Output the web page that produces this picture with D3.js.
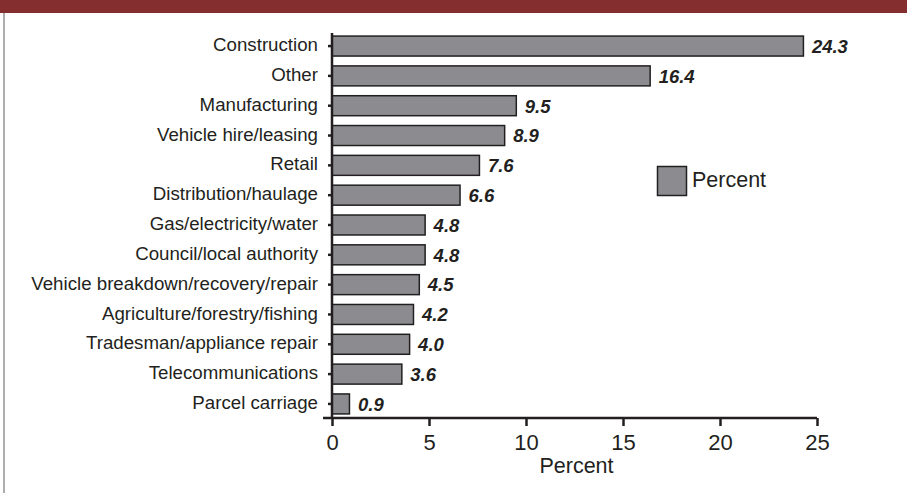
<!DOCTYPE html>
<html><head><meta charset="utf-8">
<script src="https://cdn.jsdelivr.net/npm/d3@7"></script>
<style>body{margin:0;background:#fff}svg{display:block;font-family:"Liberation Sans",Arial,sans-serif}</style>
</head><body><svg id="c" width="907" height="493"></svg>
<script>
const categories = ["Construction","Other","Manufacturing","Vehicle hire/leasing","Retail","Distribution/haulage","Gas/electricity/water","Council/local authority","Vehicle breakdown/recovery/repair","Agriculture/forestry/fishing","Tradesman/appliance repair","Telecommunications","Parcel carriage"];
const values = [24.3,16.4,9.5,8.9,7.6,6.6,4.8,4.8,4.5,4.2,4.0,3.6,0.9];
const xTicks = [0,5,10,15,20,25];
const seriesName = "Percent";
const axisTitle = "Percent";

const svg = d3.select("#c");
const ink = "#231f20";
const font = "Liberation Sans, Arial, sans-serif";
svg.append("rect").attr("x",0).attr("y",0).attr("width",907).attr("height",13).attr("fill","#842e2f");
svg.append("line").attr("x1",4).attr("x2",4).attr("y1",13).attr("y2",493).attr("stroke","#777").attr("stroke-width",1.2);

const x = d3.scaleLinear().domain([0,25]).range([332,817]);
const y = d3.scaleBand().domain(categories).range([31,419]).paddingInner(0.33).paddingOuter(0.17);

const g = svg.append("g");
g.selectAll("rect.bar").data(categories).join("rect").attr("class","bar")
  .attr("x",x(0)).attr("y",d=>y(d)).attr("width",(d,i)=>x(values[i])-x(0)).attr("height",y.bandwidth())
  .attr("fill","#8c8c90").attr("stroke",ink).attr("stroke-width",1.5);

g.selectAll("text.val").data(categories).join("text").attr("class","val")
  .attr("x",(d,i)=>x(values[i])+8.5).attr("y",d=>y(d)+y.bandwidth()/2+6.8)
  .attr("font-size",18.5).attr("font-weight","bold").attr("font-style","italic").attr("fill",ink)
  .text((d,i)=>values[i].toFixed(1));

// y axis
const ya = svg.append("g").attr("transform",`translate(${x(0)},0)`)
  .call(d3.axisLeft(y).tickSize(4).tickPadding(10));
ya.select(".domain").attr("d",`M0,${33}V418`).attr("stroke",ink).attr("stroke-width",2.5);
ya.selectAll(".tick line").attr("stroke",ink).attr("stroke-width",2.5);
ya.selectAll(".tick text").attr("font-size",18.7).attr("dy","0.27em").attr("fill",ink).attr("font-family",font);

// x axis
const xa = svg.append("g").attr("transform","translate(0,418)")
  .call(d3.axisBottom(x).tickValues(xTicks).tickSize(8).tickPadding(8).tickFormat(d3.format("d")));
xa.select(".domain").attr("d",`M323,0H817`).attr("stroke",ink).attr("stroke-width",2.5);
xa.selectAll(".tick line").attr("stroke",ink).attr("stroke-width",2.5);
xa.selectAll(".tick text").attr("font-size",22).attr("fill",ink).attr("font-family",font);

svg.append("text").attr("x",576.5).attr("y",473).attr("text-anchor","middle").attr("font-size",21.5).attr("fill",ink).text(axisTitle);

// legend
svg.append("rect").attr("x",657.5).attr("y",166.5).attr("width",29).attr("height",29).attr("fill","#8c8c90").attr("stroke",ink).attr("stroke-width",1.5);
svg.append("text").attr("x",692).attr("y",187).attr("font-size",21.5).attr("fill",ink).text(seriesName);
</script></body></html>
